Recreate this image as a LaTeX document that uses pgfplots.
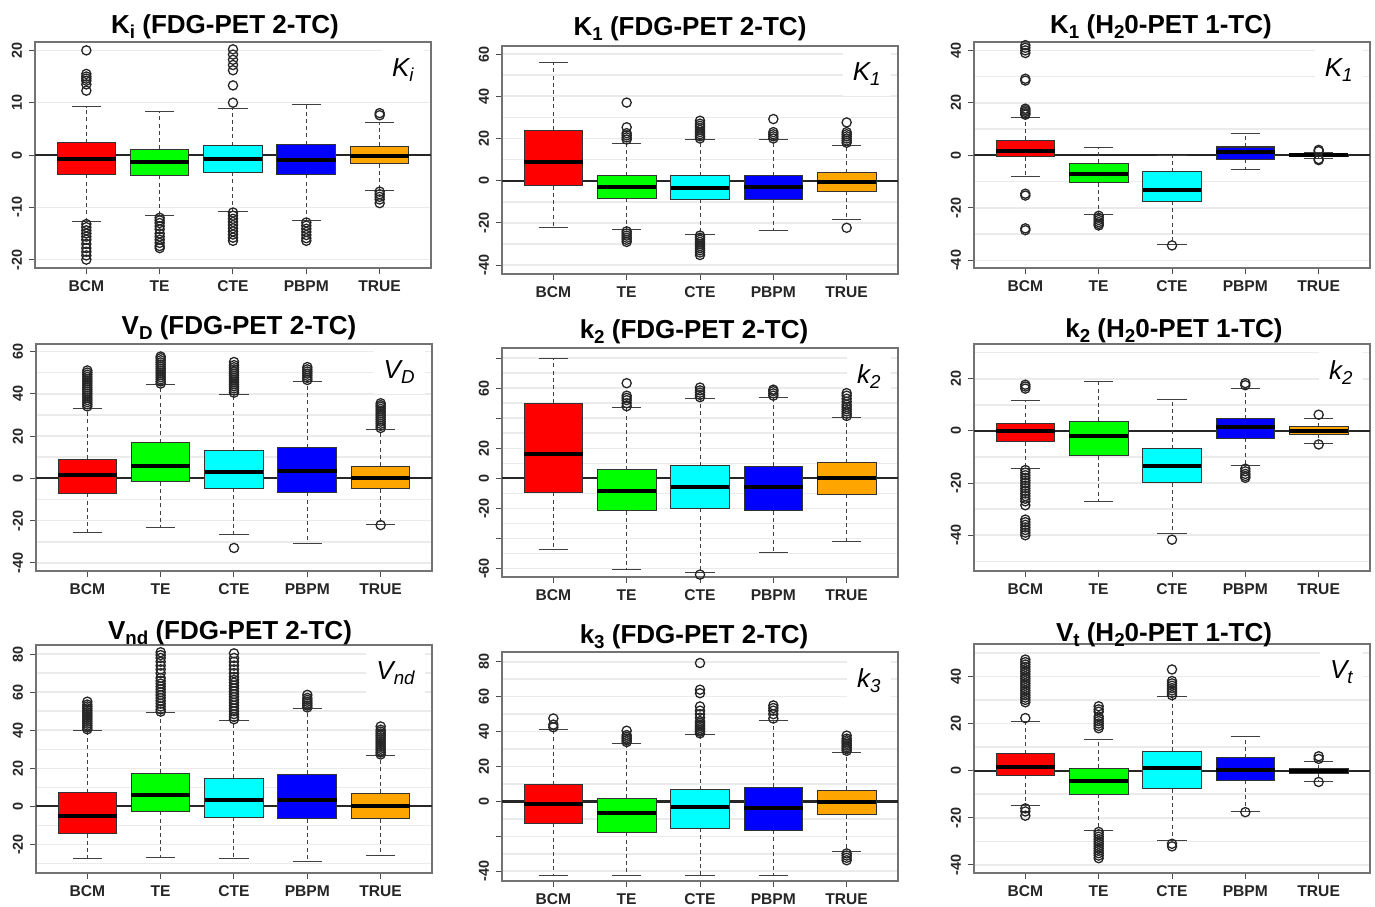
\documentclass[border=0pt]{standalone}
\usepackage{fontspec}
\setmainfont{Liberation Sans}
\usepackage{pgfplots}
\pgfplotsset{compat=1.18}
\usepgfplotslibrary{statistics}

\definecolor{cRed}{RGB}{255,0,0}
\definecolor{cGreen}{RGB}{0,255,0}
\definecolor{cCyan}{RGB}{0,255,255}
\definecolor{cBlue}{RGB}{0,0,255}
\definecolor{cOrange}{RGB}{255,165,0}

\newcommand\sub[1]{\raisebox{-0.4ex}{\scalebox{0.72}{#1}}}

% one R-style box: position, colour, lower whisker, lower quartile, median,
% upper quartile, upper whisker, outliers
\newcommand\rbox[8]{%
  \addplot[black, mark=o, mark size=2.3pt, mark options={solid, black!85, line width=0.65pt},
    boxplot prepared={draw direction=y, draw position=#1, lower whisker=#3, lower quartile=#4,
      median=#5, upper quartile=#6, upper whisker=#7,
      box extend=0.8, whisker extend=0.4,
      every box/.style={draw=black!80, line width=0.5pt, fill=#2}}]
    coordinates {#8};
}

\pgfplotsset{
  panel/.style={
    scale only axis, width=198pt, anchor=north west,
    xmin=0.3, xmax=5.7, xtick={1,2,3,4,5},
    xticklabels={BCM,TE,CTE,PBPM,TRUE},
    tick align=outside, xtick pos=left, ytick pos=left,
    major tick length=3pt, minor tick length=0pt,
    axis line style={black!55, line width=0.8pt},
    tick style={black!70, line width=0.5pt},
    xticklabel style={font=\bfseries\fontsize{7.8}{8}\selectfont, text=black!85},
    yticklabel style={rotate=90, anchor=south, font=\bfseries\fontsize{7.2}{7}\selectfont, text=black!85},
    yminorgrids=true, minor grid style={black!8, line width=0.8pt},
    clip=false,
    boxplot/draw direction=y,
    boxplot/every median/.style={black, line width=2pt},
    boxplot/draw/lower whisker/.code={%
      \draw[black!75, line width=0.5pt, dash pattern=on 2pt off 1.6pt]
        (boxplot box cs:\pgfplotsboxplotvalue{lower quartile},0.5) --
        (boxplot box cs:\pgfplotsboxplotvalue{lower whisker},0.5);
      \draw[black!75, line width=0.5pt]
        (boxplot whisker cs:\pgfplotsboxplotvalue{lower whisker},0) --
        (boxplot whisker cs:\pgfplotsboxplotvalue{lower whisker},1);
    },
    boxplot/draw/upper whisker/.code={%
      \draw[black!75, line width=0.5pt, dash pattern=on 2pt off 1.6pt]
        (boxplot box cs:\pgfplotsboxplotvalue{upper quartile},0.5) --
        (boxplot box cs:\pgfplotsboxplotvalue{upper whisker},0.5);
      \draw[black!75, line width=0.5pt]
        (boxplot whisker cs:\pgfplotsboxplotvalue{upper whisker},0) --
        (boxplot whisker cs:\pgfplotsboxplotvalue{upper whisker},1);
    },
  },
}

\newcommand\zeroline{\addplot[black!85, line width=1.1pt, forget plot] coordinates {(0.3,0) (5.7,0)};}
\newcommand\tag[1]{\node[anchor=north east, fill=white, inner xsep=5pt, inner ysep=5pt,
  font=\itshape\fontsize{13}{13}\selectfont] at (rel axis cs:1,1) [xshift=-3.5pt, yshift=-3pt] {#1};}

\begin{document}
\begin{tikzpicture}
\useasboundingbox (0,0) rectangle (687.5pt,-453pt);

% ---------- K_i (FDG-PET 2-TC)
\begin{axis}[panel, at={(17.5pt,-21pt)}, height=113pt, ymin=-21.6, ymax=21.6,
  ytick={-20,-10,0,10,20}, yticklabels={-20,-10,0,10,20},
  minor ytick={-20,-10,0,10,20}]
\zeroline
\rbox{1}{cRed}{-12.7}{-3.7}{-0.8}{2.3}{9.2}{(1,20)(1,15.5)(1,15)(1,14.6)(1,14.2)(1,13.5)(1,12.3)(1,-13.2)(1,-13.8)(1,-14.4)(1,-15)(1,-15.6)(1,-16.2)(1,-17)(1,-17.8)(1,-18.5)(1,-19.2)(1,-20)}
\rbox{2}{cGreen}{-11.6}{-3.9}{-1.4}{1.1}{8.4}{(2,-12)(2,-12.5)(2,-13)(2,-13.6)(2,-14.2)(2,-15)(2,-15.6)(2,-16.2)(2,-16.8)(2,-17.4)(2,-17.8)}
\rbox{3}{cCyan}{-10.8}{-3.3}{-0.8}{1.8}{8.8}{(3,10)(3,13.3)(3,16.2)(3,17.2)(3,18.2)(3,19.2)(3,20.2)(3,-11)(3,-11.6)(3,-12.2)(3,-12.8)(3,-13.4)(3,-14)(3,-14.6)(3,-15.2)(3,-15.8)(3,-16.4)}
\rbox{4}{cBlue}{-12.6}{-3.7}{-1.0}{2.0}{9.7}{(4,-12.9)(4,-13.5)(4,-14.1)(4,-14.7)(4,-15.3)(4,-15.9)(4,-16.4)}
\rbox{5}{cOrange}{-6.7}{-1.7}{-0.2}{1.7}{6.3}{(5,7.6)(5,8)(5,-7)(5,-7.5)(5,-8)(5,-8.5)(5,-9.2)}
\tag{K\sub{i}}
\end{axis}

% ---------- K_1 (FDG-PET 2-TC)
\begin{axis}[panel, at={(251pt,-23pt)}, height=114pt, ymin=-44.2, ymax=63.8,
  ytick={-40,-20,0,20,40,60}, yticklabels={-40,-20,0,20,40,60},
  minor ytick={-40,-30,...,60}]
\zeroline
\rbox{1}{cRed}{-22.3}{-2.4}{8.7}{24.0}{56.2}{}
\rbox{2}{cGreen}{-22.9}{-8.4}{-3.0}{2.4}{17.7}{(2,19.5)(2,20.5)(2,21.5)(2,22.5)(2,25.3)(2,37)(2,-24)(2,-25)(2,-26)(2,-27)(2,-28)(2,-29)}
\rbox{3}{cCyan}{-25.4}{-8.7}{-3.3}{2.4}{19.3}{(3,20)(3,21)(3,22)(3,23)(3,24)(3,25)(3,26)(3,27)(3,28.4)(3,-26)(3,-27)(3,-28)(3,-29)(3,-30)(3,-31)(3,-32)(3,-33)(3,-34)(3,-35.2)}
\rbox{4}{cBlue}{-23.4}{-8.7}{-2.8}{2.4}{19.3}{(4,20)(4,21)(4,22)(4,23)(4,29.2)}
\rbox{5}{cOrange}{-18.3}{-4.9}{-0.5}{3.8}{16.9}{(5,18)(5,19)(5,20)(5,21)(5,22)(5,23)(5,27.6)(5,-22.3)}
\tag{K\sub{1}}
\end{axis}

% ---------- K_1 (H2O-PET 1-TC)
\begin{axis}[panel, at={(487pt,-21pt)}, height=113pt, ymin=-42.9, ymax=43.2,
  ytick={-40,-20,0,20,40}, yticklabels={-40,-20,0,20,40},
  minor ytick={-40,-30,...,40}]
\zeroline
\rbox{1}{cRed}{-7.9}{-0.6}{1.8}{5.7}{14.6}{(1,15.5)(1,16)(1,16.6)(1,17.2)(1,17.8)(1,28.5)(1,29.2)(1,39)(1,40)(1,41)(1,42)(1,-14.6)(1,-15.3)(1,-27.8)(1,-28.5)}
\rbox{2}{cGreen}{-22.5}{-10.5}{-7.1}{-2.9}{2.9}{(2,-23)(2,-23.8)(2,-24.6)(2,-25.4)(2,-26.1)(2,-26.7)}
\rbox{3}{cCyan}{-33.8}{-17.4}{-13.3}{-6.3}{-0.1}{(3,-34.3)}
\rbox{4}{cBlue}{-5.5}{-1.5}{1.3}{3.2}{8.3}{}
\rbox{5}{cOrange}{-1.1}{-0.4}{0.1}{0.5}{1.2}{(5,1.6)(5,2.1)(5,-1.4)(5,-1.8)}
\tag{K\sub{1}}
\end{axis}

% ---------- V_D (FDG-PET 2-TC)
\begin{axis}[panel, at={(18pt,-172pt)}, height=113.5pt, ymin=-43.8, ymax=63.5,
  ytick={-40,-20,0,20,40,60}, yticklabels={-40,-20,0,20,40,60},
  minor ytick={-40,-30,...,60}]
\zeroline
\rbox{1}{cRed}{-25.7}{-7.1}{1.4}{9.0}{33.2}{(1,34)(1,35)(1,36)(1,37)(1,38)(1,39)(1,40)(1,41)(1,42)(1,43)(1,44)(1,45)(1,46)(1,47)(1,48)(1,49)(1,50)(1,51)}
\rbox{2}{cGreen}{-23.4}{-1.6}{5.8}{16.9}{44.2}{(2,44.8)(2,45.8)(2,46.8)(2,47.8)(2,48.8)(2,49.8)(2,50.8)(2,51.8)(2,52.8)(2,53.8)(2,54.8)(2,55.8)(2,56.8)(2,57.6)}
\rbox{3}{cCyan}{-26.5}{-4.7}{3.2}{13.1}{39.8}{(3,40.5)(3,41.5)(3,42.5)(3,43.5)(3,44.5)(3,45.5)(3,46.5)(3,47.5)(3,48.5)(3,49.5)(3,50.5)(3,51.5)(3,52.5)(3,53.5)(3,55)(3,-32.9)}
\rbox{4}{cBlue}{-30.8}{-6.6}{3.5}{14.5}{45.8}{(4,46.5)(4,47.5)(4,48.5)(4,49.5)(4,50.5)(4,51.5)(4,52.6)}
\rbox{5}{cOrange}{-21.6}{-4.9}{0.3}{5.8}{23.2}{(5,23.8)(5,24.8)(5,25.8)(5,26.8)(5,27.8)(5,28.8)(5,29.8)(5,30.8)(5,31.8)(5,32.8)(5,33.8)(5,34.6)(5,35.5)(5,-22.1)}
\tag{V\sub{D}}
\end{axis}

% ---------- k_2 (FDG-PET 2-TC)
\begin{axis}[panel, at={(251pt,-174pt)}, height=114.5pt, ymin=-65.6, ymax=86.7,
  ytick={-60,-40,-20,0,20,40,60,80}, yticklabels={-60,{},-20,0,20,{},60,{}},
  minor ytick={-60,-50,...,80}]
\zeroline
\rbox{1}{cRed}{-47.3}{-9.3}{16.0}{49.8}{80.0}{}
\rbox{2}{cGreen}{-60.7}{-21.6}{-8.2}{5.6}{47.1}{(2,48)(2,50)(2,52)(2,53.5)(2,55)(2,63.3)}
\rbox{3}{cCyan}{-62.9}{-20.0}{-6.0}{8.4}{52.9}{(3,54)(3,55.5)(3,57)(3,58.5)(3,60.4)(3,-64)}
\rbox{4}{cBlue}{-49.3}{-21.6}{-5.6}{8.0}{54.0}{(4,55)(4,56.5)(4,58)(4,59)}
\rbox{5}{cOrange}{-41.8}{-10.7}{0.0}{10.4}{40.7}{(5,41.5)(5,43)(5,44.5)(5,46)(5,47.5)(5,49)(5,51)(5,53)(5,55)(5,56.7)}
\tag{k\sub{2}}
\end{axis}

% ---------- k_2 (H2O-PET 1-TC)
\begin{axis}[panel, at={(487pt,-172pt)}, height=113.5pt, ymin=-53.7, ymax=33.3,
  ytick={-40,-20,0,20}, yticklabels={-40,-20,0,20},
  minor ytick={-50,-40,...,30}]
\zeroline
\rbox{1}{cRed}{-14.4}{-4.1}{0.0}{2.7}{11.5}{(1,16.2)(1,17)(1,17.7)(1,-15)(1,-16)(1,-17)(1,-18)(1,-19)(1,-20)(1,-21)(1,-22)(1,-23)(1,-24)(1,-25)(1,-26)(1,-27)(1,-28.5)(1,-34)(1,-35)(1,-36)(1,-37)(1,-38)(1,-39)(1,-40)}
\rbox{2}{cGreen}{-27.2}{-9.5}{-1.9}{3.6}{19.0}{}
\rbox{3}{cCyan}{-39.4}{-19.9}{-13.3}{-6.9}{11.9}{(3,-41.7)}
\rbox{4}{cBlue}{-13.1}{-2.8}{1.3}{4.6}{16.2}{(4,17.5)(4,18.3)(4,-14.5)(4,-15.5)(4,-16.5)(4,-17.3)(4,-18)}
\rbox{5}{cOrange}{-4.7}{-1.2}{0.1}{1.5}{4.9}{(5,6.2)(5,-5.2)}
\tag{k\sub{2}}
\end{axis}

% ---------- V_nd (FDG-PET 2-TC)
\begin{axis}[panel, at={(18pt,-322.5pt)}, height=114pt, ymin=-35, ymax=84.8,
  ytick={-20,0,20,40,60,80}, yticklabels={-20,0,20,40,60,80},
  minor ytick={-30,-20,...,80}]
\zeroline
\rbox{1}{cRed}{-27.4}{-14.3}{-4.9}{7.3}{39.9}{(1,40.5)(1,41.5)(1,42.5)(1,43.5)(1,44.5)(1,45.5)(1,46.5)(1,47.5)(1,48.5)(1,49.5)(1,50.5)(1,51.5)(1,52.5)(1,53.5)(1,55)}
\rbox{2}{cGreen}{-26.6}{-2.6}{6.1}{17.5}{49.3}{(2,49.8)(2,51)(2,52.5)(2,54)(2,55.5)(2,57)(2,58.5)(2,60)(2,61.5)(2,63)(2,64.5)(2,66)(2,67.5)(2,70)(2,72)(2,74)(2,76)(2,78)(2,79.5)(2,81)}
\rbox{3}{cCyan}{-27.4}{-5.6}{3.5}{14.9}{45.1}{(3,45.8)(3,47)(3,48.5)(3,50)(3,51.5)(3,53)(3,54.5)(3,56)(3,57.5)(3,59)(3,60.5)(3,62)(3,63.5)(3,65)(3,66.5)(3,68)(3,70)(3,72)(3,74)(3,76)(3,78)(3,80.4)}
\rbox{4}{cBlue}{-29.2}{-6.5}{3.5}{16.8}{51.2}{(4,52)(4,53)(4,54)(4,55)(4,56)(4,57)(4,58.6)}
\rbox{5}{cOrange}{-25.9}{-6.5}{0.0}{7.0}{26.7}{(5,27.3)(5,28.3)(5,29.3)(5,30.3)(5,31.3)(5,32.3)(5,33.3)(5,34.3)(5,35.3)(5,36.3)(5,37.3)(5,38.3)(5,39.3)(5,40.3)(5,42)}
\tag{V\sub{nd}}
\end{axis}

% ---------- k_3 (FDG-PET 2-TC)
\begin{axis}[panel, at={(251pt,-326pt)}, height=114.5pt, ymin=-45.6, ymax=85.6,
  ytick={-40,-20,0,20,40,60,80}, yticklabels={-40,{},0,20,40,60,80},
  minor ytick={-40,-30,...,80}]
\zeroline
\rbox{1}{cRed}{-42.3}{-12.5}{-1.5}{9.6}{41.2}{(1,42.5)(1,44)(1,47.5)}
\rbox{2}{cGreen}{-42.3}{-17.8}{-6.7}{1.9}{33.3}{(2,34)(2,35)(2,36)(2,37)(2,38)(2,40.5)}
\rbox{3}{cCyan}{-42.3}{-15.3}{-3.4}{6.7}{38.3}{(3,39)(3,40)(3,41)(3,42)(3,43)(3,44)(3,45)(3,46)(3,48)(3,50)(3,52)(3,54.4)(3,62)(3,64)(3,79.3)}
\rbox{4}{cBlue}{-42.3}{-16.5}{-4.0}{8.0}{46.4}{(4,47.5)(4,50)(4,52)(4,53.5)(4,55)}
\rbox{5}{cOrange}{-28.9}{-7.7}{-0.6}{6.5}{28.2}{(5,29)(5,30)(5,31)(5,32)(5,33)(5,34)(5,35)(5,36)(5,37.7)(5,-29.8)(5,-31)(5,-32.3)(5,-33.7)}
\tag{k\sub{3}}
\end{axis}

% ---------- V_t (H2O-PET 1-TC)
\begin{axis}[panel, at={(487pt,-322pt)}, height=114.5pt, ymin=-43.4, ymax=53.7,
  ytick={-40,-20,0,20,40}, yticklabels={-40,-20,0,20,40},
  minor ytick={-40,-30,...,50}]
\zeroline
\rbox{1}{cRed}{-14.7}{-2.0}{1.6}{7.2}{20.7}{(1,22.3)(1,29)(1,30)(1,31)(1,32)(1,33)(1,34)(1,35)(1,36)(1,37)(1,38)(1,39)(1,40)(1,41)(1,42)(1,43)(1,44)(1,45)(1,46)(1,47.1)(1,-16)(1,-17.3)(1,-19.1)}
\rbox{2}{cGreen}{-25.3}{-9.9}{-4.4}{1.1}{13.2}{(2,18)(2,19)(2,20)(2,21)(2,22)(2,23)(2,25)(2,26)(2,27.3)(2,-26)(2,-27)(2,-28)(2,-29)(2,-30)(2,-31)(2,-32)(2,-33)(2,-34)(2,-35)(2,-36)(2,-37.1)}
\rbox{3}{cCyan}{-29.6}{-7.6}{1.3}{8.2}{31.3}{(3,32)(3,33)(3,34)(3,35)(3,36)(3,37)(3,38)(3,42.9)(3,-31)(3,-32.1)}
\rbox{4}{cBlue}{-17.3}{-4.1}{0.4}{5.4}{14.6}{(4,-17.6)}
\rbox{5}{cOrange}{-4.5}{-1.0}{-0.1}{0.8}{4.0}{(5,5.0)(5,6.1)(5,-4.8)}
\tag{V\sub{t}}
\end{axis}

% panel titles
\begin{scope}[every node/.style={anchor=base, font=\bfseries\fontsize{13}{13}\selectfont, inner sep=0pt}]
\node at (112.5pt,-16.5pt) {K\sub{i} (FDG-PET 2-TC)};
\node at (345pt,-17.5pt)   {K\sub{1} (FDG-PET 2-TC)};
\node at (580.5pt,-16.5pt) {K\sub{1} (H\sub{2}0-PET 1-TC)};
\node at (119.5pt,-167pt)  {V\sub{D} (FDG-PET 2-TC)};
\node at (347pt,-169pt)    {k\sub{2} (FDG-PET 2-TC)};
\node at (587pt,-168.5pt)  {k\sub{2} (H\sub{2}0-PET 1-TC)};
\node at (115pt,-319.5pt)  {V\sub{nd} (FDG-PET 2-TC)};
\node at (347pt,-321.5pt)  {k\sub{3} (FDG-PET 2-TC)};
\node at (582pt,-320.5pt)  {V\sub{t} (H\sub{2}0-PET 1-TC)};
\end{scope}
\end{tikzpicture}
\end{document}
